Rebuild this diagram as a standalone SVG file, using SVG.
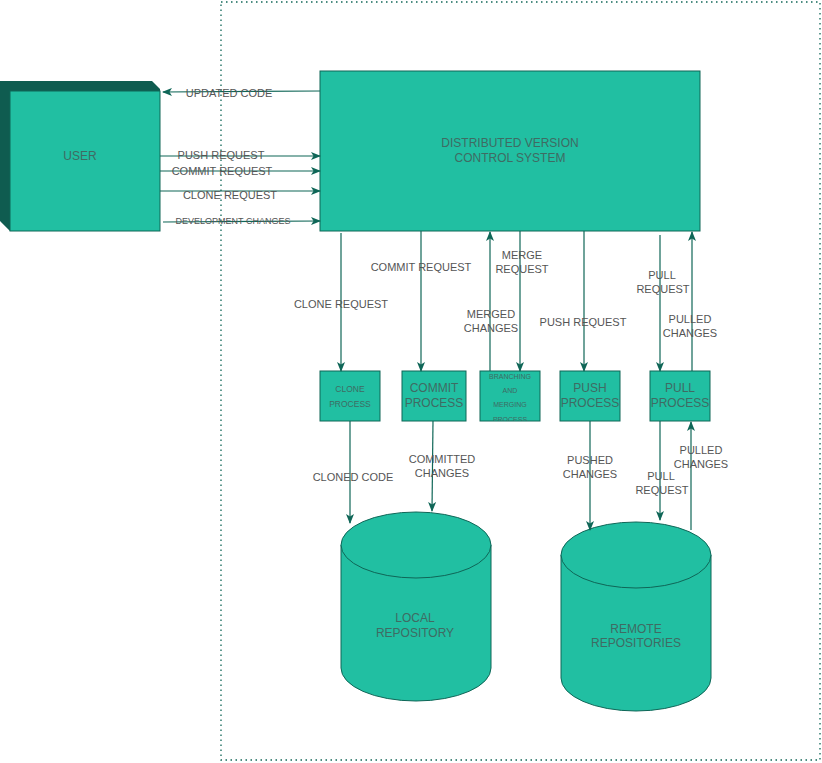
<svg xmlns="http://www.w3.org/2000/svg" width="822" height="763" viewBox="0 0 822 763">
  <style>
    .box { fill: #21bfa2; stroke: #0f6657; stroke-width: 1; }
    .side { fill: #0f5c50; }
    .edge { fill: none; stroke: #0f6657; stroke-width: 1.2; }
    .lbl { font-family: "Liberation Sans", Arial, sans-serif; font-size: 11px; fill: #555555; text-anchor: middle; }
    .ntx { font-family: "Liberation Sans", Arial, sans-serif; font-size: 12px; fill: #3f6b63; text-anchor: middle; }
  </style>
  <defs>
    <marker id="arrow" viewBox="0 0 10 8" refX="9" refY="4" markerWidth="10" markerHeight="8" markerUnits="userSpaceOnUse" orient="auto">
      <path d="M0,0 L10,4 L0,8 L2.5,4 z" fill="#0f6657"/>
    </marker>
    <clipPath id="branchClip"><rect x="480" y="371" width="60" height="50"/></clipPath>
  </defs>

  <rect width="822" height="763" fill="#ffffff"/>

  <!-- dotted system boundary -->
  <rect x="221" y="2" width="599" height="758" fill="none" stroke="#0f6657" stroke-width="1.3" stroke-dasharray="1.5 3.5"/>

  <g id="user">
    <polygon class="side" points="0,81 152,81 160,89 160,91 10,91 10,231 0,221"/>
    <rect class="box" x="10" y="91" width="150" height="140"/>
    <text class="ntx" x="80" y="160">USER</text>
  </g>

  <g id="dvcs">
    <rect class="box" x="320" y="71" width="380" height="160"/>
    <text class="ntx" x="510" y="147">DISTRIBUTED VERSION</text>
    <text class="ntx" x="510" y="162">CONTROL SYSTEM</text>
  </g>

  <g id="clone-process">
    <rect class="box" x="320" y="371" width="60" height="50"/>
    <text class="ntx" x="350" y="392" style="font-size:8.5px">CLONE</text>
    <text class="ntx" x="350" y="407" style="font-size:8.5px">PROCESS</text>
  </g>

  <g id="commit-process">
    <rect class="box" x="402" y="371" width="64" height="50"/>
    <text class="ntx" x="434" y="392">COMMIT</text>
    <text class="ntx" x="434" y="407">PROCESS</text>
  </g>

  <g id="branching-process">
    <rect class="box" x="480" y="371" width="60" height="50"/>
    <g clip-path="url(#branchClip)">
      <text class="ntx" x="510" y="379" style="font-size:7px">BRANCHING</text>
      <text class="ntx" x="510" y="393" style="font-size:7px">AND</text>
      <text class="ntx" x="510" y="407" style="font-size:7px">MERGING</text>
      <text class="ntx" x="510" y="422" style="font-size:7px">PROCESS</text>
    </g>
  </g>

  <g id="push-process">
    <rect class="box" x="560" y="371" width="60" height="50"/>
    <text class="ntx" x="590" y="392">PUSH</text>
    <text class="ntx" x="590" y="407">PROCESS</text>
  </g>

  <g id="pull-process">
    <rect class="box" x="650" y="371" width="60" height="50"/>
    <text class="ntx" x="680" y="392">PULL</text>
    <text class="ntx" x="680" y="407">PROCESS</text>
  </g>

  <g id="local-repository">
    <path class="box" d="M341,545 A75,33 0 0 1 491,545 L491,668 A75,33 0 0 1 341,668 Z"/>
    <path class="box" d="M341,545 A75,33 0 0 0 491,545"/>
    <text class="ntx" x="415" y="622">LOCAL</text>
    <text class="ntx" x="415" y="637">REPOSITORY</text>
  </g>

  <g id="remote-repositories">
    <path class="box" d="M561,555 A75,33 0 0 1 711,555 L711,678 A75,33 0 0 1 561,678 Z"/>
    <path class="box" d="M561,555 A75,33 0 0 0 711,555"/>
    <text class="ntx" x="636" y="633">REMOTE</text>
    <text class="ntx" x="636" y="647">REPOSITORIES</text>
  </g>

  <g id="connectors">
    <!-- user <-> system -->
    <path class="edge" d="M320,91 L163,92" marker-end="url(#arrow)"/>
    <path class="edge" d="M160,156 L320,156" marker-end="url(#arrow)"/>
    <path class="edge" d="M160,171 L320,171" marker-end="url(#arrow)"/>
    <path class="edge" d="M160,191 L320,191" marker-end="url(#arrow)"/>
    <path class="edge" d="M163,222 L320,221" marker-end="url(#arrow)"/>

    <!-- system <-> processes -->
    <path class="edge" d="M341,233 L341,371" marker-end="url(#arrow)"/>
    <path class="edge" d="M421,231 L421,371" marker-end="url(#arrow)"/>
    <path class="edge" d="M490,371 L490,232" marker-end="url(#arrow)"/>
    <path class="edge" d="M520,231 L520,371" marker-end="url(#arrow)"/>
    <path class="edge" d="M584,231 L584,371" marker-end="url(#arrow)"/>
    <path class="edge" d="M660,235 L660,371" marker-end="url(#arrow)"/>
    <path class="edge" d="M692,371 L692,232" marker-end="url(#arrow)"/>

    <!-- processes <-> repositories -->
    <path class="edge" d="M350,421 L350,523" marker-end="url(#arrow)"/>
    <path class="edge" d="M433,421 L432,511" marker-end="url(#arrow)"/>
    <path class="edge" d="M590,421 L590,530" marker-end="url(#arrow)"/>
    <path class="edge" d="M660,421 L660,520" marker-end="url(#arrow)"/>
    <path class="edge" d="M691,530 L691,422" marker-end="url(#arrow)"/>

    <!-- labels -->
    <text class="lbl" x="229" y="97">UPDATED CODE</text>
    <text class="lbl" x="221" y="159">PUSH REQUEST</text>
    <text class="lbl" x="222" y="175">COMMIT REQUEST</text>
    <text class="lbl" x="230" y="199">CLONE REQUEST</text>
    <text class="lbl" x="233" y="224" style="font-size:9px">DEVELOPMENT CHANGES</text>

    <text class="lbl" x="341" y="308">CLONE REQUEST</text>
    <text class="lbl" x="421" y="271">COMMIT REQUEST</text>
    <text class="lbl" x="491" y="318">MERGED</text>
    <text class="lbl" x="491" y="332">CHANGES</text>
    <text class="lbl" x="522" y="259">MERGE</text>
    <text class="lbl" x="522" y="273">REQUEST</text>
    <text class="lbl" x="583" y="326">PUSH REQUEST</text>
    <text class="lbl" x="662" y="279">PULL</text>
    <text class="lbl" x="663" y="293">REQUEST</text>
    <text class="lbl" x="690" y="323">PULLED</text>
    <text class="lbl" x="690" y="337">CHANGES</text>

    <text class="lbl" x="353" y="481">CLONED CODE</text>
    <text class="lbl" x="442" y="463">COMMITTED</text>
    <text class="lbl" x="442" y="477">CHANGES</text>
    <text class="lbl" x="590" y="464">PUSHED</text>
    <text class="lbl" x="590" y="478">CHANGES</text>
    <text class="lbl" x="661" y="480">PULL</text>
    <text class="lbl" x="662" y="494">REQUEST</text>
    <text class="lbl" x="701" y="454">PULLED</text>
    <text class="lbl" x="701" y="468">CHANGES</text>
  </g>
</svg>
